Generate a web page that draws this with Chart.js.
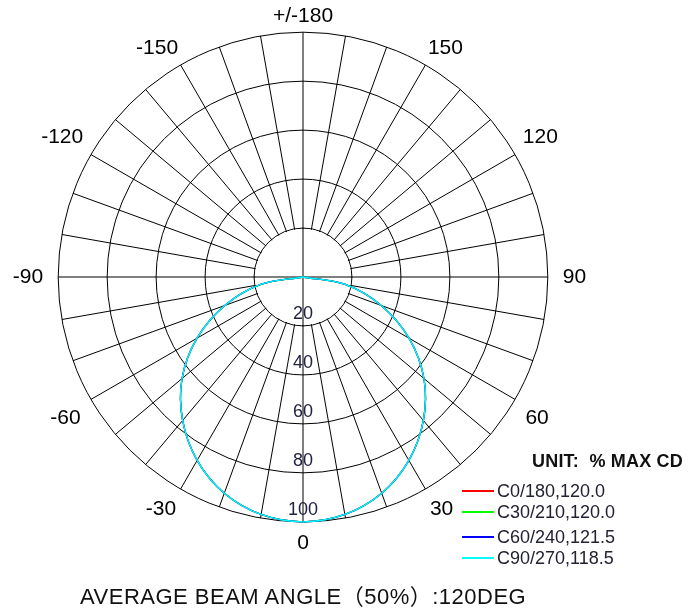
<!DOCTYPE html>
<html>
<head>
<meta charset="utf-8">
<script src="https://cdn.jsdelivr.net/npm/chart.js@4.4.1/dist/chart.umd.min.js"></script>
<style>
  html, body { margin: 0; padding: 0; background: #fff; }
  #wrap { position: relative; width: 690px; height: 611px; overflow: hidden;
          font-family: "Liberation Sans", Arial, "Noto Sans CJK SC", sans-serif; }
  #chart { position: absolute; left: 0; top: 0; }
  #unit { position: absolute; left: 532px; top: 451px; font-weight: bold; font-size: 18px;
          line-height: 20px; color: #111; white-space: pre; letter-spacing: 0.2px; }
  .leg { position: absolute; left: 462px; height: 22px; line-height: 22px; font-size: 18px;
         color: #222233; white-space: pre; }
  .leg .sw { position: absolute; left: 0; top: 10px; width: 32px; height: 2px; }
  .leg .tx { position: absolute; left: 35px; top: 0; }
  #title { position: absolute; left: 80px; top: 585px; font-size: 22px; line-height: 24px;
           color: #111; white-space: pre; letter-spacing: 0.5px; }
</style>
</head>
<body>
<div id="wrap">
  <canvas id="chart" width="690" height="611"></canvas>
  <div id="unit">UNIT:  % MAX CD</div>
  <div id="legend"></div>
  <div id="title">AVERAGE BEAM ANGLE（50%）:120DEG</div>
</div>
<script>
// ---- categories: polar angle of each spoke, clockwise from the top ----
const angles = [180, 170, 160, 150, 140, 130, 120, 110, 100, 90, 80, 70, 60, 50, 40, 30, 20, 10,
                0, -10, -20, -30, -40, -50, -60, -70, -80, -90, -100, -110, -120, -130, -140, -150, -160, -170];
// angles that carry a visible label
const labelledAngles = [180, 150, 120, 90, 60, 30, 0, -30, -60, -90, -120, -150];
// radial tick values (% of max cd)
const radialTicks = [20, 40, 60, 80, 100];

// ---- series (relative intensity, % of max cd, per spoke) ----
const c0 = [0, 0, 0, 0, 0, 0, 0, 0, 0, 0, 17.5, 34, 50, 64.5, 76.5, 86.5, 94, 98.5,
            100, 98.5, 94, 86.5, 76.5, 64.5, 50, 34, 17.5, 0, 0, 0, 0, 0, 0, 0, 0, 0];
const c30 = [0, 0, 0, 0, 0, 0, 0, 0, 0, 0, 17.5, 34, 50, 64.5, 76.5, 86.5, 94, 98.5,
             100, 98.5, 94, 86.5, 76.5, 64.5, 50, 34, 17.5, 0, 0, 0, 0, 0, 0, 0, 0, 0];
const c60 = [0, 0, 0, 0, 0, 0, 0, 0, 0, 0, 17.5, 34, 50, 64.5, 76.5, 86.5, 94, 98.5,
             100, 98.5, 94, 86.5, 76.5, 64.5, 50, 34, 17.5, 0, 0, 0, 0, 0, 0, 0, 0, 0];
const c90 = [0, 0, 0, 0, 0, 0, 0, 0, 0, 0, 17.5, 34, 50, 64.5, 76.5, 86.5, 94, 98.5,
             100, 98.5, 94, 86.5, 76.5, 64.5, 50, 34, 17.5, 0, 0, 0, 0, 0, 0, 0, 0, 0];

const seriesNames = ['C0/180,120.0', 'C30/210,120.0', 'C60/240,121.5', 'C90/270,118.5'];
const seriesColors = ['#ff0000', '#00ff00', '#0000ff', '#00ffff'];
const seriesData = [c0, c30, c60, c90];

const gridColor = '#000000';
const FONT = '"Liberation Sans", Arial, sans-serif';

// HTML legend built from the series
const legendEl = document.getElementById('legend');
const legendTops = [480, 501, 526, 547];
seriesNames.forEach((name, i) => {
  const d = document.createElement('div');
  d.className = 'leg';
  d.style.top = legendTops[i] + 'px';
  d.innerHTML = '<span class="sw" style="background:' + seriesColors[i] + '"></span><span class="tx">' + name + '</span>';
  legendEl.appendChild(d);
});

function labelText(a) {
  if (labelledAngles.indexOf(a) < 0) return '';
  return a === 180 ? '+/-180' : String(a);
}

const polarDecor = {
  id: 'polarDecor',
  beforeDatasetsDraw(chart) {
    const s = chart.scales.r;
    const ctx = chart.ctx;
    const d = s.getDistanceFromCenterForValue(radialTicks[0]);
    ctx.save();
    ctx.beginPath();
    ctx.arc(s.xCenter, s.yCenter, d - 1, 0, Math.PI * 2);
    ctx.fillStyle = '#ffffff';
    ctx.fill();
    ctx.strokeStyle = gridColor;
    ctx.lineWidth = 1;
    [[0, 18], [9, 27]].forEach(([a, b]) => {
      const p = s.getPointPosition(a, d);
      const q = s.getPointPosition(b, d);
      ctx.beginPath();
      ctx.moveTo(p.x, p.y);
      ctx.lineTo(q.x, q.y);
      ctx.stroke();
    });
    ctx.restore();
  },
  afterDatasetsDraw(chart) {
    const s = chart.scales.r;
    const ctx = chart.ctx;
    ctx.save();
    ctx.font = '18px ' + FONT;
    ctx.fillStyle = '#222244';
    ctx.textAlign = 'center';
    ctx.textBaseline = 'middle';
    s.ticks.forEach(t => {
      if (t.value <= 0) return;
      const d = s.getDistanceFromCenterForValue(t.value);
      ctx.fillText(t.label, s.xCenter, s.yCenter + d - 12);
    });
    ctx.restore();
  }
};

new Chart(document.getElementById('chart'), {
  type: 'radar',
  data: {
    labels: angles,
    datasets: seriesData.map((arr, i) => ({
      label: seriesNames[i],
      data: arr,
      borderColor: seriesColors[i],
      backgroundColor: seriesColors[i],
      borderWidth: 1.3,
      pointRadius: 0,
      fill: false,
      tension: 0.34,
      order: seriesData.length - i
    }))
  },
  options: {
    responsive: false,
    animation: false,
    events: [],
    devicePixelRatio: 1,
    layout: { padding: { left: 0, right: 90, top: 2, bottom: 51 } },
    plugins: { legend: { display: false }, tooltip: { enabled: false }, title: { display: false } },
    scales: {
      r: {
        min: 0,
        max: 100,
        startAngle: 0,
        ticks: { stepSize: 20, display: false },
        grid: { circular: true, color: gridColor, lineWidth: 1 },
        angleLines: { display: true, color: gridColor, lineWidth: 1 },
        pointLabels: {
          display: true,
          color: '#000000',
          font: { size: 21, family: FONT },
          callback: (label) => labelText(label),
          padding: (ctx) => {
            const a = angles[ctx.index];
            if (labelledAngles.indexOf(a) < 0) return 0;
            if (a === 180) return 3;
            if (a === 0) return 9;
            if (a === 90 || a === -90) return 15;
            if (a === 60 || a === -60) return 12;
            if (a === 120 || a === -120) return 9;
            if (a === 30 || a === -30) return 9;
            return 5;
          }
        }
      }
    }
  },
  plugins: [polarDecor]
});
</script>
</body>
</html>
